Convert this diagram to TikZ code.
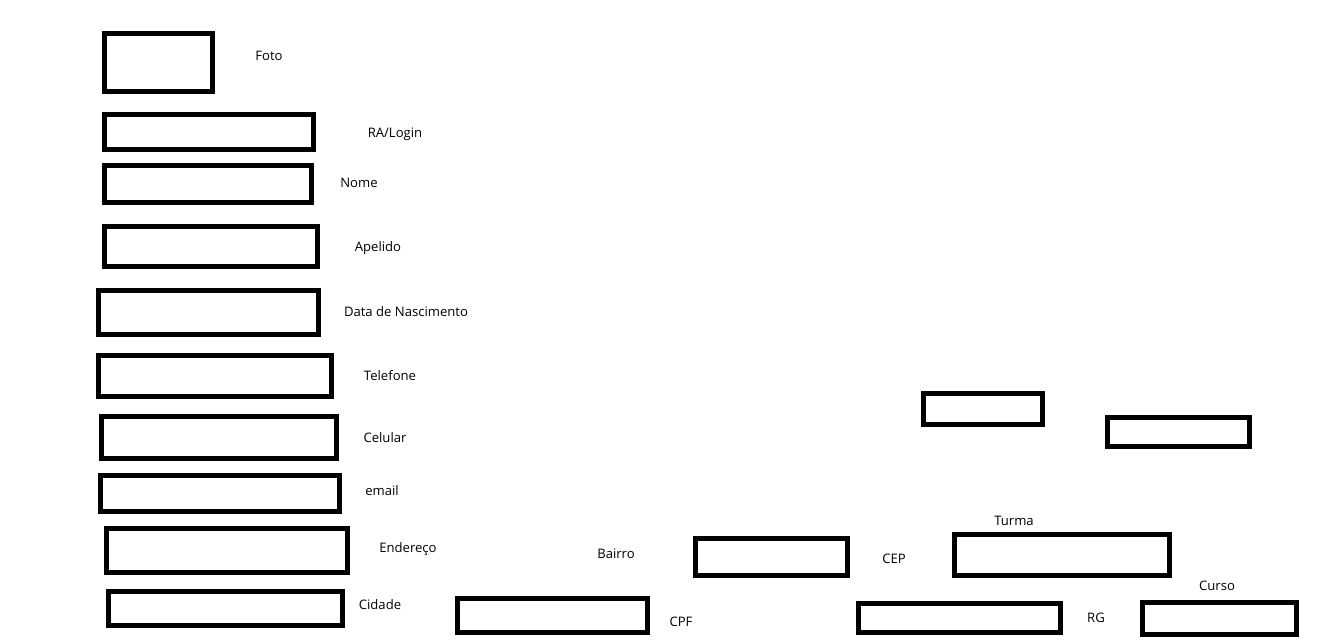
\documentclass[tikz,border=0pt]{standalone}
\usepackage{fontspec}
\setmainfont{Open Sans}
\usetikzlibrary{positioning}

\begin{document}
\begin{tikzpicture}[x=1pt, y=-1pt,
  campo/.style={line width=5pt, draw=black},
  rotulo/.style={font=\fontsize{13.1}{15}\selectfont, text=black, inner sep=0pt}]

\useasboundingbox (0,0) rectangle (1328,644);

% ======================================================================
% LEFT COLUMN : ONE BOX PER FIELD, LABEL TO THE RIGHT
% ======================================================================
\draw[campo] (104.5,33.5)  rectangle (212.5,91.5);
\draw[campo] (104.5,114.5) rectangle (313.5,149.5);
\draw[campo] (104.5,165.5) rectangle (311.5,202.5);
\draw[campo] (104.5,226.5) rectangle (317.5,266.5);
\draw[campo] (98.5,290.5)  rectangle (318.5,334.5);
\draw[campo] (98.5,355.5)  rectangle (331.5,396.5);
\draw[campo] (101.5,416.5) rectangle (336.5,458.5);
\draw[campo] (100.5,475.5) rectangle (339.5,511.5);
\draw[campo] (106.5,528.5) rectangle (347.5,572.5);
\draw[campo] (108.5,591.5) rectangle (342.5,625.5);

\node[rotulo] (foto)     at (269,56)  {Foto};
\node[rotulo] (ra)       at (395,134) {RA/Login};
\node[rotulo] (nome)     at (359,183) {Nome};
\node[rotulo] (apelido)  at (378,248) {Apelido};
\node[rotulo] (nasc)     at (406,312) {Data de Nascimento};
\node[rotulo] (telefone) at (390,376) {Telefone};
\node[rotulo] (celular)  at (385,438) {Celular};
\node[rotulo] (email)    at (382,491) {email};
\node[rotulo] (endereco) at (408,549) {Endereço};
\node[rotulo] (cidade)   at (380,605) {Cidade};

% ======================================================================
% BOTTOM ROW : REMAINING FIELDS
% ======================================================================
\draw[campo] (457.5,598.5)  rectangle (647.5,632.5);
\draw[campo] (695.5,538.5)  rectangle (847.5,575.5);
\draw[campo] (858.5,603.5)  rectangle (1060.5,632.5);
\draw[campo] (954.5,534.5)  rectangle (1169.5,575.5);
\draw[campo] (1142.5,602.5) rectangle (1296.5,634.5);

\node[rotulo] (bairro) at (616,554)  {Bairro};
\node[rotulo] (cpf)    at (681,622)  {CPF};
\node[rotulo] (cep)    at (894,559)  {CEP};
\node[rotulo] (turma)  at (1014,521) {Turma};
\node[rotulo] (curso)  at (1217,586) {Curso};
\node[rotulo] (rg)     at (1096,618) {RG};

% two unlabelled boxes on the right
\draw[campo] (923.5,393.5)  rectangle (1042.5,424.5);
\draw[campo] (1107.5,417.5) rectangle (1249.5,446.5);

\end{tikzpicture}
\end{document}
